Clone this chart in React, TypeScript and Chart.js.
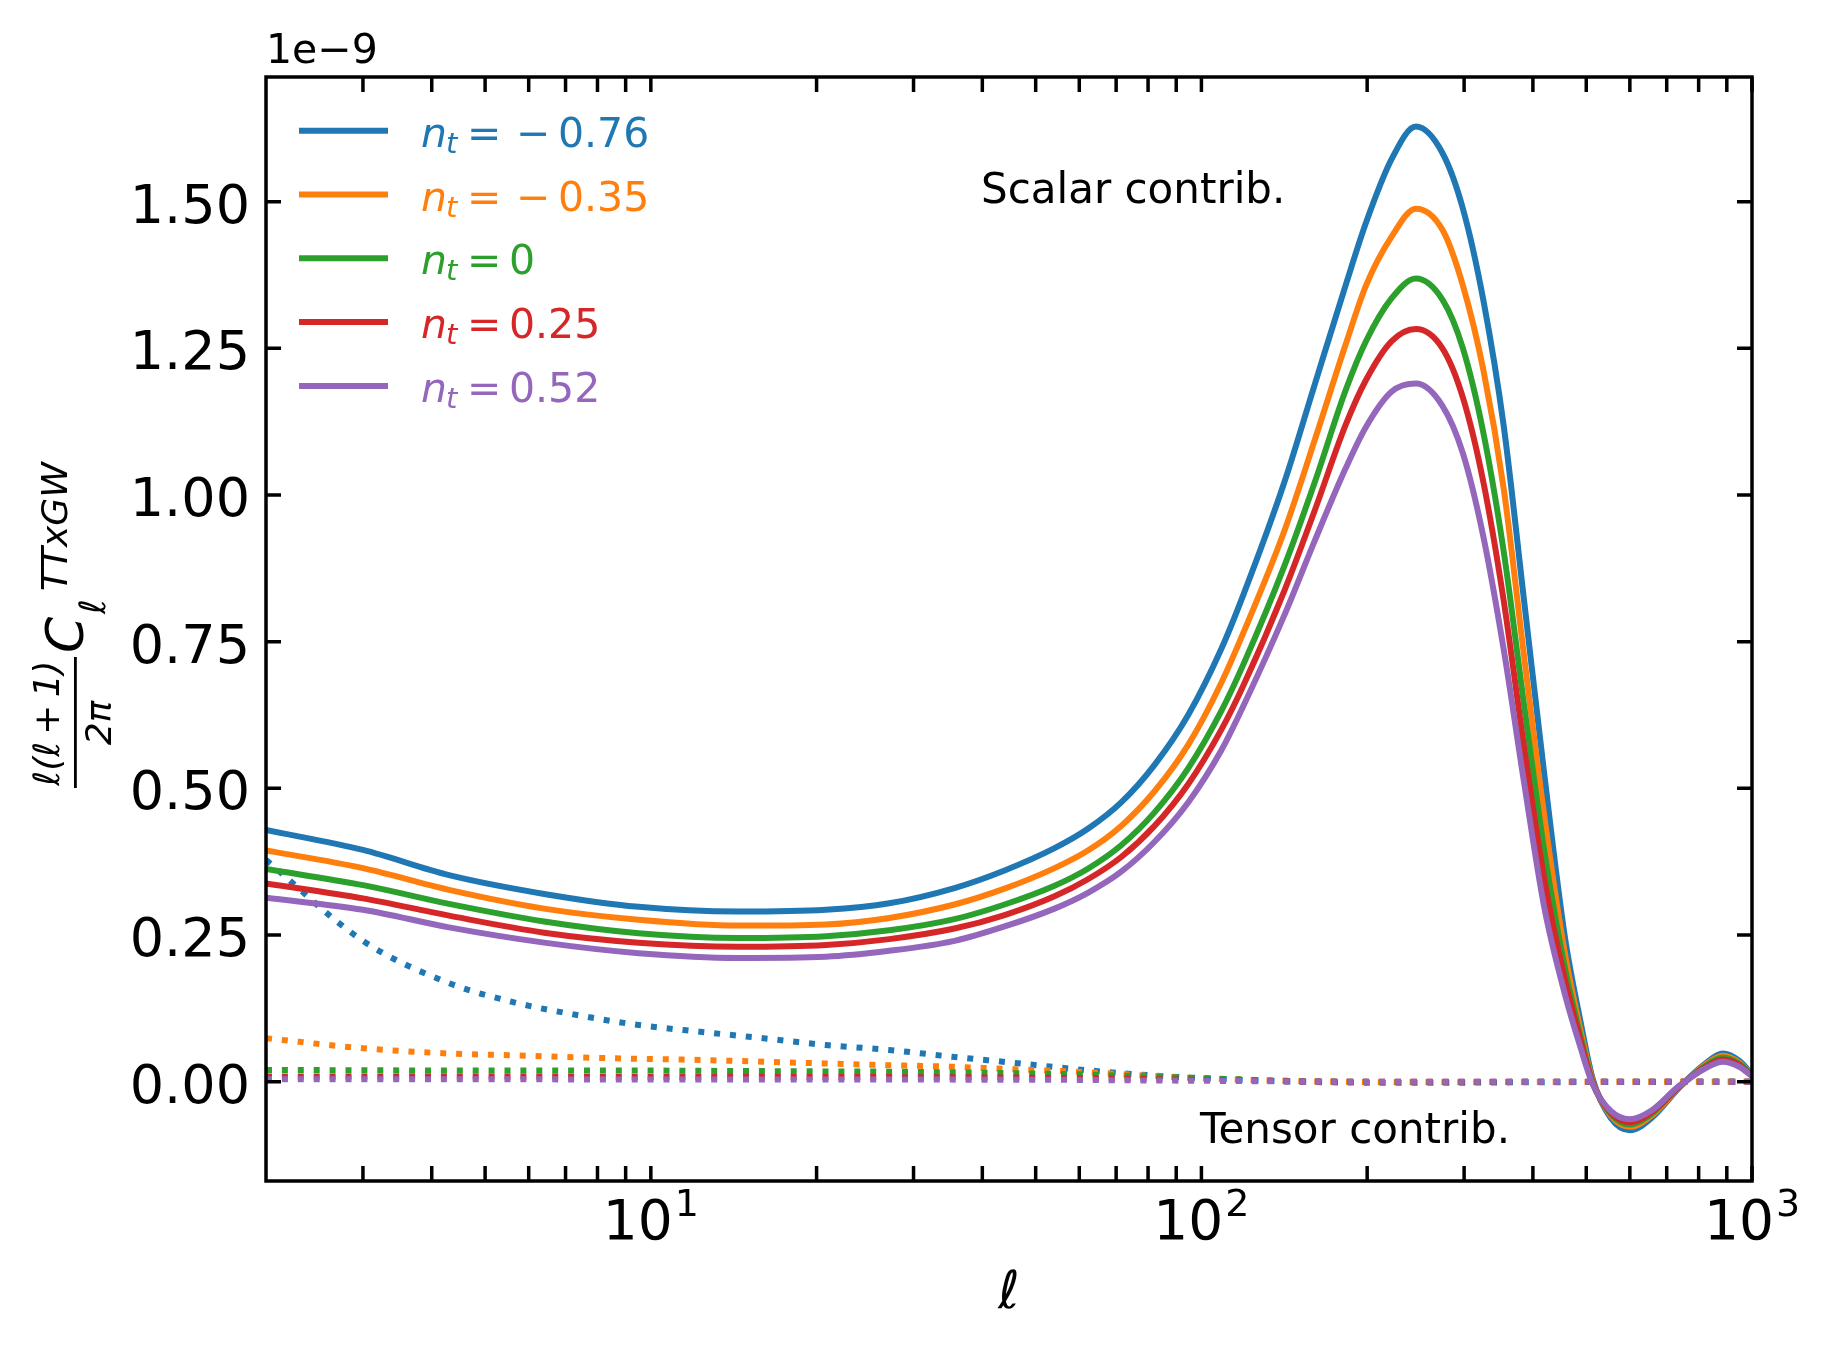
import React, { useEffect, useRef } from 'react';
import { Chart, registerables } from 'chart.js';

Chart.register(...registerables);

// multipole values where the scalar curves were read
const ELL = [2, 3, 4.3, 6.4, 9.5, 14.4, 20.8, 27.1, 35.6, 43.9, 54.1, 62.2, 71.5, 82.2, 94.6, 108.7, 119.4, 141.6, 160.8,
  182.7, 199, 221.4, 245.3, 274, 298.5, 325, 354, 385.5, 419.7, 457, 487.5, 514, 554, 600, 657, 731, 763, 820, 885, 950, 1000];

// scalar contribution, units of 1e-9
const SCALAR_M076 = [0.429, 0.395, 0.352, 0.320, 0.298, 0.290, 0.293, 0.304, 0.330, 0.360, 0.398, 0.431, 0.476, 0.540,
  0.625, 0.738, 0.832, 1.023, 1.190, 1.357, 1.464, 1.572, 1.628, 1.583, 1.488, 1.333, 1.118, 0.820, 0.522, 0.248, 0.105,
  0.004, -0.062, -0.083, -0.062, -0.014, 0.004, 0.030, 0.048, 0.035, 0.012];
const SCALAR_M035 = [0.394, 0.364, 0.327, 0.295, 0.276, 0.266, 0.268, 0.279, 0.302, 0.329, 0.364, 0.394, 0.436, 0.495,
  0.574, 0.680, 0.767, 0.940, 1.095, 1.256, 1.357, 1.440, 1.488, 1.452, 1.357, 1.214, 1.011, 0.725, 0.451, 0.220, 0.090,
  0.000, -0.058, -0.077, -0.058, -0.013, 0.003, 0.028, 0.044, 0.032, 0.011];
const SCALAR_0 = [0.3625, 0.335, 0.303, 0.273, 0.253, 0.245, 0.248, 0.258, 0.277, 0.302, 0.334, 0.363, 0.403, 0.459,
  0.534, 0.632, 0.713, 0.880, 1.023, 1.178, 1.262, 1.335, 1.369, 1.333, 1.250, 1.107, 0.904, 0.642, 0.392, 0.195, 0.080,
  -0.002, -0.055, -0.073, -0.055, -0.012, 0.003, 0.026, 0.041, 0.030, 0.011];
const SCALAR_P025 = [0.338, 0.3125, 0.283, 0.254, 0.237, 0.230, 0.233, 0.243, 0.261, 0.284, 0.316, 0.345, 0.383, 0.436,
  0.507, 0.600, 0.677, 0.838, 0.975, 1.119, 1.196, 1.262, 1.283, 1.250, 1.166, 1.023, 0.820, 0.570, 0.344, 0.175, 0.072,
  -0.003, -0.053, -0.069, -0.052, -0.011, 0.003, 0.024, 0.038, 0.028, 0.010];
const SCALAR_P052 = [0.3136, 0.293, 0.263, 0.237, 0.219, 0.211, 0.213, 0.223, 0.240, 0.2646, 0.295, 0.322, 0.358, 0.409,
  0.476, 0.565, 0.642, 0.796, 0.923, 1.045, 1.116, 1.176, 1.190, 1.152, 1.071, 0.930, 0.737, 0.510, 0.296, 0.150, 0.060,
  -0.005, -0.050, -0.064, -0.049, -0.010, 0.003, 0.022, 0.034, 0.025, 0.009];

// multipole values where the tensor curves were read
const ELL_T = [2, 3, 4.3, 5.6, 7.3, 9.5, 12.3, 16, 20.8, 27.1, 35.2, 45.8, 59.6, 77.5, 100, 150, 240, 400, 1000];

// tensor contribution, units of 1e-9
const TENSOR_M076 = [0.378, 0.240, 0.168, 0.136, 0.114, 0.0966, 0.085, 0.074, 0.0625, 0.054, 0.0426, 0.032, 0.021, 0.012,
  0.006, 0.000, -0.002, -0.001, 0.000];
const TENSOR_M035 = [0.074, 0.057, 0.048, 0.045, 0.0415, 0.039, 0.037, 0.034, 0.031, 0.028, 0.0256, 0.021, 0.017, 0.011,
  0.0057, 0.001, -0.001, -0.0005, 0.000];
const TENSOR_0 = [0.020, 0.0195, 0.019, 0.019, 0.019, 0.019, 0.0185, 0.018, 0.0175, 0.017, 0.016, 0.0145, 0.0125, 0.009,
  0.006, 0.001, -0.0005, -0.0003, 0.000];
const TENSOR_P025 = [0.009, 0.009, 0.0088, 0.0087, 0.0086, 0.0085, 0.0083, 0.0082, 0.008, 0.0078, 0.0075, 0.007, 0.006, 0.0045,
  0.003, 0.0005, -0.0002, -0.0001, 0.000];
const TENSOR_P052 = [0.004, 0.004, 0.004, 0.004, 0.0039, 0.0039, 0.0038, 0.0038, 0.0037, 0.0036, 0.0035, 0.0033, 0.003, 0.0022,
  0.0015, 0.0003, -0.0001, 0.0, 0.0];

const NT_LABELS = ['\u22120.76', '\u22120.35', '0', '0.25', '0.52'];
const COLORS = ['#1f77b4', '#ff7f0e', '#2ca02c', '#d62728', '#9467bd'];

const SCALARS = [SCALAR_M076, SCALAR_M035, SCALAR_0, SCALAR_P025, SCALAR_P052];
const TENSORS = [TENSOR_M076, TENSOR_M035, TENSOR_0, TENSOR_P025, TENSOR_P052];

const X_MAJOR = [10, 100, 1000];
const X_MINOR = [3, 4, 5, 6, 7, 8, 9, 20, 30, 40, 50, 60, 70, 80, 90, 200, 300, 400, 500, 600, 700, 800, 900];
const Y_TICKS = [0, 0.25, 0.5, 0.75, 1.0, 1.25, 1.5];
const X_TICK_LABELS = ['1', '2', '3'];

const FONT = '"DejaVu Sans", "Liberation Sans", sans-serif';
const TICK_LEN = 15;

const decorations = {
  id: 'decorations',
  afterDraw(chart: any) {
    const { ctx, chartArea: a } = chart;
    const xs = chart.scales.x;
    const ys = chart.scales.y;
    ctx.save();
    ctx.strokeStyle = '#000';
    ctx.fillStyle = '#000';
    ctx.lineCap = 'butt';

    // inward ticks on all four sides
    ctx.lineWidth = 3.5;
    ctx.beginPath();
    for (const v of X_MAJOR.concat(X_MINOR)) {
      const px = xs.getPixelForValue(v);
      ctx.moveTo(px, a.bottom);
      ctx.lineTo(px, a.bottom - TICK_LEN);
      ctx.moveTo(px, a.top);
      ctx.lineTo(px, a.top + TICK_LEN);
    }
    for (const v of Y_TICKS) {
      const py = ys.getPixelForValue(v);
      ctx.moveTo(a.left, py);
      ctx.lineTo(a.left + TICK_LEN, py);
      ctx.moveTo(a.right, py);
      ctx.lineTo(a.right - TICK_LEN, py);
    }
    ctx.stroke();

    // frame
    ctx.strokeRect(a.left, a.top, a.right - a.left, a.bottom - a.top);

    // y tick labels
    ctx.font = `54px ${FONT}`;
    ctx.textAlign = 'right';
    ctx.textBaseline = 'alphabetic';
    for (const v of Y_TICKS) {
      const py = ys.getPixelForValue(v);
      ctx.fillText(v.toFixed(2), a.left - 16, py + 21);
    }

    // x tick labels: 10^n
    ctx.textAlign = 'left';
    X_MAJOR.forEach((v, i) => {
      const px = xs.getPixelForValue(v);
      ctx.font = `55px ${FONT}`;
      const wBase = ctx.measureText('10').width;
      ctx.font = `38px ${FONT}`;
      const wSup = ctx.measureText(X_TICK_LABELS[i]).width;
      const x0 = px - (wBase + wSup + 2) / 2;
      ctx.font = `55px ${FONT}`;
      ctx.fillText('10', x0, a.bottom + 58);
      ctx.font = `38px ${FONT}`;
      ctx.fillText(X_TICK_LABELS[i], x0 + wBase + 2, a.bottom + 35);
    });

    // offset text
    ctx.font = `41px ${FONT}`;
    ctx.fillText('1e\u22129', a.left, a.top - 14);

    // x label
    ctx.font = `italic 52px ${FONT}`;
    ctx.textAlign = 'center';
    ctx.fillText('\u2113', (a.left + a.right) / 2, a.bottom + 127);

    // y label, rotated: frac{l(l+1)}{2pi} C_l^{TTxGW}
    ctx.save();
    ctx.translate(83, 790);
    ctx.rotate(-Math.PI / 2);
    ctx.textAlign = 'center';
    ctx.font = `italic 36px ${FONT}`;
    ctx.fillText('\u2113(\u2113\u2009+\u20091)', 67, -24);
    ctx.fillText('2\u03c0', 67, 28);
    ctx.fillRect(2, -9, 131, 2.8);
    ctx.textAlign = 'left';
    ctx.font = `italic 52px ${FONT}`;
    ctx.fillText('C', 137, 0);
    ctx.font = `italic 36px ${FONT}`;
    ctx.fillText('\u2113', 176, 22);
    ctx.fillText('TTxGW', 199, -16);
    ctx.restore();

    // legend
    ctx.textAlign = 'left';
    COLORS.forEach((c, i) => {
      const yy = 130.7 + i * 63.8;
      ctx.strokeStyle = c;
      ctx.lineWidth = 6;
      ctx.beginPath();
      ctx.moveTo(299, yy);
      ctx.lineTo(388, yy);
      ctx.stroke();
      ctx.fillStyle = c;
      const base = yy + 16;
      ctx.font = `italic 41px ${FONT}`;
      ctx.fillText('n', 421, base);
      ctx.font = `italic 29px ${FONT}`;
      ctx.fillText('t', 446, base + 6);
      ctx.font = `41px ${FONT}`;
      ctx.fillText('=', 467, base);
      const lab = NT_LABELS[i];
      if (lab.startsWith('\u2212')) {
        ctx.fillText('\u2212', 516, base);
        ctx.fillText(lab.slice(1), 558, base);
      } else {
        ctx.fillText(lab, 509, base);
      }
    });

    // annotations
    ctx.fillStyle = '#000';
    ctx.font = `42px ${FONT}`;
    ctx.fillText('Scalar contrib.', 981, 203);
    ctx.fillText('Tensor contrib.', 1200, 1143);

    ctx.restore();
  },
};

const App: React.FC = () => {
  const canvasRef = useRef<HTMLCanvasElement>(null);

  useEffect(() => {
    if (!canvasRef.current) return;
    const datasets: any[] = [];
    SCALARS.forEach((vals, i) => {
      datasets.push({
        label: `n_t = ${NT_LABELS[i]}`,
        data: ELL.map((l, j) => ({ x: l, y: vals[j] })),
        borderColor: COLORS[i],
        borderWidth: 6,
        pointRadius: 0,
        fill: false,
        cubicInterpolationMode: 'monotone',
        borderJoinStyle: 'round',
        order: 100 - 2 * i,
      });
      datasets.push({
        label: `tensor ${NT_LABELS[i]}`,
        data: ELL_T.map((l, j) => ({ x: l, y: TENSORS[i][j] })),
        borderColor: COLORS[i],
        borderWidth: 6,
        borderDash: [6, 9.9],
        borderCapStyle: 'butt',
        pointRadius: 0,
        fill: false,
        cubicInterpolationMode: 'monotone',
        order: 99 - 2 * i,
      });
    });

    const chart = new Chart(canvasRef.current, {
      type: 'line',
      data: { datasets },
      options: {
        responsive: false,
        animation: false,
        devicePixelRatio: 1,
        layout: { padding: { left: 266, top: 77, right: 77, bottom: 169 } },
        plugins: { legend: { display: false }, tooltip: { enabled: false } },
        scales: {
          x: { type: 'logarithmic', min: 2, max: 1000, display: false },
          y: { type: 'linear', min: -0.1693, max: 1.7125, display: false },
        },
      },
      plugins: [decorations],
    });

    return () => {
      chart.destroy();
    };
  }, []);

  return (
    <div style={{ position: 'absolute', left: 0, top: 0, width: 1829, height: 1350, background: '#fff' }}>
      <canvas ref={canvasRef} width={1829} height={1350} style={{ display: 'block', width: 1829, height: 1350 }} />
    </div>
  );
};

export default App;
